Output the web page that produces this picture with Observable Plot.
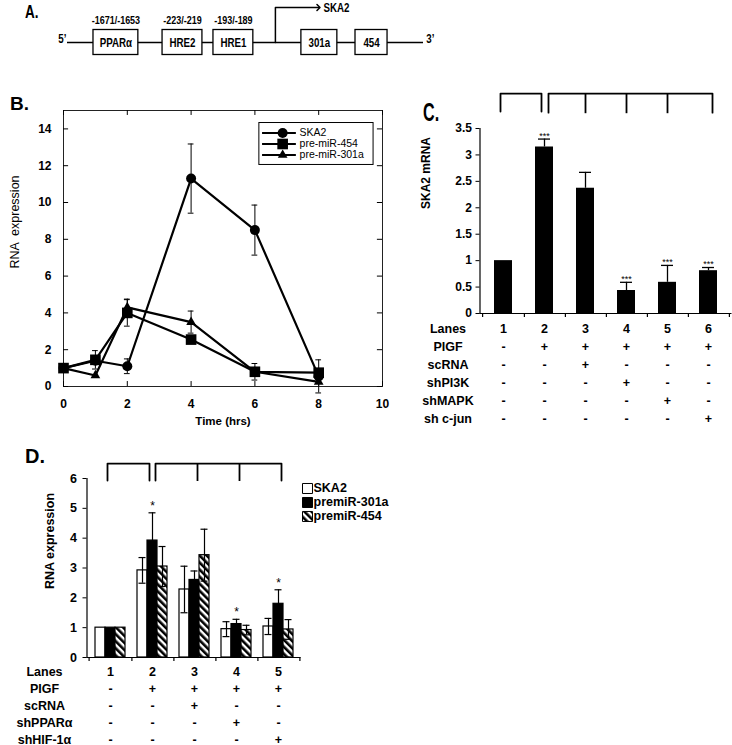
<!DOCTYPE html>
<html><head><meta charset="utf-8">
<script src="https://cdn.jsdelivr.net/npm/d3@7"></script>
<script src="https://cdn.jsdelivr.net/npm/@observablehq/plot@0.6"></script>
<style>
body{margin:0;background:#fff;}
#fig{position:relative;width:732px;height:745px;overflow:hidden;font-family:"Liberation Sans",Arial,sans-serif;}
#fig svg{position:absolute;left:0;top:0;overflow:visible;}
.pl{position:absolute;font-weight:bold;line-height:1;color:#000;transform-origin:0 0;}
.rt{position:absolute;white-space:pre;line-height:1;color:#000;transform:translate(-50%,-50%) rotate(-90deg);}
</style></head><body>
<svg width="0" height="0" style="position:absolute"><defs>
<pattern id="hatch" patternUnits="userSpaceOnUse" width="5" height="5" patternTransform="rotate(-45)">
<rect width="5" height="5" fill="white"/><rect width="2.6" height="5" fill="black"/></pattern></defs></svg>
<div id="fig">
<div class="pl" style="left:25px;top:3px;font-size:18px;transform:scaleX(0.75);">A.</div>
<div class="pl" style="left:10px;top:94px;font-size:19px;">B.</div>
<div class="pl" style="left:423px;top:99px;font-size:26px;transform:scaleX(0.62);">C.</div>
<div class="pl" style="left:25px;top:446px;font-size:20px;">D.</div>
<div class="rt" style="left:15px;top:222px;font-size:12.5px;">RNA  expression</div>
<div class="rt" style="left:426px;top:173px;font-size:12px;font-weight:bold;">SKA2 mRNA</div>
<div class="rt" style="left:50px;top:541px;font-size:12.5px;font-weight:bold;">RNA expression</div>
</div>
<script>
// ================= DATA =================
// Panel A (schematic positions, arbitrary units 0-100 along the promoter line)
const aElements = ["PPARα", "HRE2", "HRE1", "301a", "454"];
const aStart = [7.3, 26.7, 41.0, 65.7, 80.9];
const aEnd = [19.9, 37.9, 52.2, 75.8, 89.9];
const aSiteLabels = ["-1671/-1653", "-223/-219", "-193/-189"];
const aTSS = 58.4, aArrowEnd = 70.5, aGene = "SKA2";

// Panel B
const bSeries = ["SKA2", "pre-miR-454", "pre-miR-301a"];
const bTimes = [0, 1, 2, 4, 6, 8];
const bSKA2 = [1.0, 1.4, 1.1, 11.3, 8.5, 0.55];
const bSKA2Err = [0, 0, 0.4, 1.88, 1.36, 0.9];
const b454 = [1.0, 1.45, 4.0, 2.55, 0.8, 0.75];
const b454Err = [0, 0.5, 0.72, 0, 0.45, 0];
const b301a = [1.0, 0.6, 4.3, 3.5, 0.8, 0.25];
const b301aErr = [0, 0, 0.45, 0.6, 0, 0];
const bXTicks = [0, 2, 4, 6, 8, 10];
const bYTicks = [0, 2, 4, 6, 8, 10, 12, 14];

// Panel C
const cLanes = [1, 2, 3, 4, 5, 6];
const cValues = [1.0, 3.15, 2.37, 0.435, 0.59, 0.81];
const cErrors = [0, 0.15, 0.3, 0.155, 0.32, 0.06];
const cStarLanes = [2, 4, 5, 6];
const cYTicks = [0, 0.5, 1, 1.5, 2, 2.5, 3, 3.5];
const cRowLabels = ["Lanes", "PIGF", "scRNA", "shPI3K", "shMAPK", "sh c-jun"];
const cTable = [
  ["1", "2", "3", "4", "5", "6"],
  ["-", "+", "+", "+", "+", "+"],
  ["-", "-", "+", "-", "-", "-"],
  ["-", "-", "-", "+", "-", "-"],
  ["-", "-", "-", "-", "+", "-"],
  ["-", "-", "-", "-", "-", "+"]
];
const cBracketLeft = [1, 2], cBracketRight = [2, 6], cBracketTicks = [3, 4, 5];

// Panel D
const dLanes = [1, 2, 3, 4, 5];
const dSeries = ["SKA2", "premiR-301a", "premiR-454"];
const dSKA2 = [1, 2.92, 2.28, 0.95, 1.04];
const dSKA2Err = [0, 0.43, 0.78, 0.25, 0.27];
const d301a = [1, 3.92, 2.6, 1.12, 1.8];
const d301aErr = [0, 0.93, 0.3, 0.16, 0.47];
const d454 = [1, 3.05, 3.43, 0.92, 0.94];
const d454Err = [0, 0.67, 0.87, 0.16, 0.33];
const dStarLanes = [2, 4, 5]; // on premiR-301a
const dYTicks = [0, 1, 2, 3, 4, 5, 6];
const dRowLabels = ["Lanes", "PIGF", "scRNA", "shPPARα", "shHIF-1α"];
const dTable = [
  ["1", "2", "3", "4", "5"],
  ["-", "+", "+", "+", "+"],
  ["-", "-", "+", "-", "-"],
  ["-", "-", "-", "+", "-"],
  ["-", "-", "-", "-", "+"]
];
const dBracketLeft = [1, 2], dBracketRight = [2, 5], dBracketTicks = [3, 4];

// ================= RENDER =================
const W = 732, H = 745;
const FONT = '"Liberation Sans", Arial, Helvetica, sans-serif';
const baseStyle = {fontFamily: FONT, fontSize: "12px", fontWeight: "bold", background: "transparent", overflow: "visible", color: "black"};
const fig = document.getElementById("fig");
const add = (p) => { fig.appendChild(p); return p; };
// narrow the glyphs of a plot's texts (the reference uses a condensed face)
const condense = (svg, k) => svg.querySelectorAll("text").forEach(t => {
  const len = t.getComputedTextLength();
  if (len > 0) { t.setAttribute("textLength", (len * k).toFixed(2)); t.setAttribute("lengthAdjust", "spacingAndGlyphs"); }
});

// ---- Panel A ----
const aBoxes = aElements.map((n, i) => ({name: n, x1: aStart[i], x2: aEnd[i]}));
const aSites = aSiteLabels.map((l, i) => ({label: l, x: (aStart[i] + aEnd[i]) / 2}));
const aSvg = add(Plot.plot({
  width: W, height: 75, marginLeft: 67, marginRight: W - 423, marginTop: 0, marginBottom: 0,
  x: {domain: [0, 100], axis: null}, y: {domain: [-2.64, 3.36], axis: null},
  style: {...baseStyle, fontSize: "12px"},
  marks: [
    Plot.ruleY([0], {x1: 0, x2: 100, strokeWidth: 1.5}),
    Plot.line([{x: aTSS, y: 0}, {x: aTSS, y: 2.8}, {x: aArrowEnd, y: 2.8}], {x: "x", y: "y", strokeWidth: 1.5, markerEnd: "arrow"}),
    Plot.rect(aBoxes, {x1: "x1", x2: "x2", y1: -1, y2: 1, fill: "white", stroke: "black", strokeWidth: 1.3}),
    Plot.text(aBoxes, {x: d => (d.x1 + d.x2) / 2, y: 0, text: "name", fontSize: 12.5}),
    Plot.text(aSites, {x: "x", y: 1.76, text: "label", fontSize: 11.5}),
    Plot.text([aGene], {x: aArrowEnd + 1.4, y: 2.8, text: d => d, textAnchor: "start", fontSize: 12.5}),
    Plot.text(["5’"], {x: -0.3, y: 0.3, text: d => d, textAnchor: "end", fontSize: 12.5}),
    Plot.text(["3’"], {x: 100.8, y: 0.3, text: d => d, textAnchor: "start", fontSize: 12.5})
  ]
}));
condense(aSvg, 0.78);

// ---- Panel B ----
const bVals = [bSKA2, b454, b301a], bErrs = [bSKA2Err, b454Err, b301aErr];
const bRows = [];
bSeries.forEach((s, k) => bTimes.forEach((t, i) => bRows.push({s, t, v: bVals[k][i], e: bErrs[k][i]})));
const bErr = bRows.filter(d => d.e > 0);
const bSym = {"SKA2": "circle", "pre-miR-454": "square", "pre-miR-301a": "triangle"};
const bR = {"SKA2": 5, "pre-miR-454": 6, "pre-miR-301a": 3.6};
const bLegY = [13.78, 13.18, 12.58];
const bLeg = bSeries.map((s, i) => ({s, y: bLegY[i]}));
add(Plot.plot({
  width: W, height: H, marginLeft: 63, marginRight: W - 382, marginTop: 110, marginBottom: H - 386,
  x: {domain: [0, 10]}, y: {domain: [0, 15]},
  style: baseStyle,
  marks: [
    Plot.frame({stroke: "#222", strokeWidth: 1}),
    Plot.ruleY(bYTicks, {y: d => d, x1: 0, x2: 0.16}),
    Plot.ruleY(bYTicks, {y: d => d, x1: 9.84, x2: 10}),
    Plot.ruleX(bXTicks, {x: d => d, y1: 0, y2: 0.27}),
    Plot.ruleX(bXTicks, {x: d => d, y1: 14.73, y2: 15}),
    Plot.axisX({ticks: bXTicks, tickSize: 0, tickPadding: 13, fontSize: 12, label: null}),
    Plot.axisY({ticks: bYTicks, tickSize: 0, tickPadding: 12, fontSize: 12, label: null}),
    Plot.ruleX(bErr, {x: "t", y1: d => d.v - d.e, y2: d => d.v + d.e, strokeWidth: 1}),
    Plot.ruleY(bErr, {y: d => d.v + d.e, x1: d => d.t - 0.09, x2: d => d.t + 0.09, strokeWidth: 1}),
    Plot.ruleY(bErr, {y: d => d.v - d.e, x1: d => d.t - 0.09, x2: d => d.t + 0.09, strokeWidth: 1}),
    Plot.line(bRows, {x: "t", y: "v", z: "s", strokeWidth: 2.2}),
    ...bSeries.map(s => Plot.dot(bRows.filter(d => d.s === s), {x: "t", y: "v", symbol: bSym[s], r: bR[s], fill: "black"})),
    // legend
    Plot.rect([0], {x1: 6.14, x2: 9.72, y1: 12.04, y2: 14.32, fill: "white", stroke: "black", strokeWidth: 1}),
    Plot.ruleY(bLeg, {y: "y", x1: 6.24, x2: 7.3, strokeWidth: 2}),
    ...bLeg.map(l => Plot.dot([l], {x: 6.87, y: "y", symbol: bSym[l.s], r: bR[l.s], fill: "black"})),
    Plot.text(bLeg, {x: 7.4, y: "y", text: "s", textAnchor: "start", fontWeight: "normal", fontSize: 10.5}),
    Plot.text(["Time (hrs)"], {x: 5, y: -1.9, text: d => d, fontSize: 11.5})
  ]
}));

// ---- Panel C ----
const cRows = cLanes.map((l, i) => ({lane: l, v: cValues[i], e: cErrors[i]}));
const cX = {type: "band", domain: cLanes, paddingInner: 0.57, paddingOuter: 0.3};
const cML = 479.5, cMR = 0.5;
const cStep = (W - cML - cMR) / (cLanes.length - 0.57 + 0.6);
const bracket = ([a, b], lo, hi) => [{lane: a, y: lo}, {lane: a, y: hi}, {lane: b, y: hi}, {lane: b, y: lo}];
add(Plot.plot({
  width: W, height: H, marginLeft: cML, marginRight: cMR, marginTop: 128, marginBottom: H - 313,
  x: {...cX, axis: null}, y: {domain: [0, 3.5]},
  style: baseStyle,
  marks: [
    Plot.barY(cRows, {x: "lane", y: "v", fill: "black"}),
    Plot.ruleX(cRows.filter(d => d.e > 0), {x: "lane", y1: "v", y2: d => d.v + d.e, strokeWidth: 1.3}),
    Plot.tickY(cRows.filter(d => d.e > 0), {x: "lane", y: d => d.v + d.e, insetLeft: 3, insetRight: 3, strokeWidth: 1.3}),
    Plot.text(cRows.filter(d => cStarLanes.includes(d.lane)), {x: "lane", y: d => d.v + d.e, text: d => "***", dy: -3.3, fontSize: 9, fontWeight: "normal"}),
    Plot.ruleY([0], {strokeWidth: 1.2}),
    Plot.frame({anchor: "left", strokeWidth: 1.2}),
    Plot.ruleX(cLanes, {x: d => d, dx: cStep / 2, y1: 0, y2: -0.076, strokeWidth: 1.2}),
    Plot.ruleX([cLanes[0]], {x: d => d, dx: -cStep / 2, y1: 0, y2: -0.076, strokeWidth: 1.2}),
    Plot.axisY({ticks: cYTicks, tickSize: 4, tickPadding: 4, tickFormat: d => String(d), fontSize: 12, label: null}),
    Plot.line(bracket(cBracketLeft, 3.82, 4.16), {x: "lane", y: "y", dx: -3, strokeWidth: 1.8}),
    Plot.line(bracket(cBracketRight, 3.8, 4.16), {x: "lane", y: "y", dx: 4, strokeWidth: 1.8}),
    Plot.ruleX(cBracketTicks, {x: d => d, y1: 3.78, y2: 4.16, strokeWidth: 1.8})
  ]
}));

// ---- tables ----
function tablePlot(lanes, rowLabels, table, xOpts, mL, mR, yRange, labelDx) {
  const cells = [];
  table.forEach((row, r) => row.forEach((sym, c) => cells.push({lane: lanes[c], row: rowLabels[r], sym})));
  return Plot.plot({
    width: W, height: H, marginLeft: mL, marginRight: mR, marginTop: 0, marginBottom: 0,
    x: {...xOpts, axis: null}, y: {type: "point", domain: rowLabels, range: yRange, padding: 0, axis: null},
    style: baseStyle,
    marks: [
      Plot.text(rowLabels, {y: d => d, frameAnchor: "left", dx: labelDx, text: d => d, textAnchor: "middle", fontSize: 12.5}),
      Plot.text(cells, {x: "lane", y: "row", text: "sym", fontSize: 12.5})
    ]
  });
}
add(tablePlot(cLanes, cRowLabels, cTable, cX, cML, cMR, [328, 418], 447.5 - cML));

// ---- Panel D ----
const dVals = [dSKA2, d301a, d454], dErrs = [dSKA2Err, d301aErr, d454Err];
const dFills = ["white", "black", "url(#hatch)"];
const dOff = [-10, 0, 10];
const dX = {type: "band", domain: dLanes, paddingInner: 0.766, paddingOuter: 0.383};
const dML = 86.5, dMR = W - 300.5;
const dStep = (W - dML - dMR) / dLanes.length;
const dRows = dSeries.map((s, k) => dLanes.map((l, i) => ({s, lane: l, v: dVals[k][i], e: dErrs[k][i]})));
const dLegY = [5.665, 5.196, 4.727];
const dMarks = [];
dRows.forEach((rows, k) => {
  dMarks.push(Plot.barY(rows, {x: "lane", y: "v", fill: dFills[k], stroke: "black", strokeWidth: 1.2, dx: dOff[k]}));
});
dRows.forEach((rows, k) => {
  const er = rows.filter(d => d.e > 0);
  dMarks.push(Plot.ruleX(er, {x: "lane", y1: d => d.v - d.e, y2: d => d.v + d.e, strokeWidth: 1.2, dx: dOff[k]}));
  dMarks.push(Plot.tickY(er, {x: "lane", y: d => d.v + d.e, insetLeft: 1.5, insetRight: 1.5, strokeWidth: 1.2, dx: dOff[k]}));
  dMarks.push(Plot.tickY(er, {x: "lane", y: d => d.v - d.e, insetLeft: 1.5, insetRight: 1.5, strokeWidth: 1.2, dx: dOff[k]}));
});
add(Plot.plot({
  width: W, height: H, marginLeft: dML, marginRight: dMR, marginTop: 478, marginBottom: H - 657,
  x: {...dX, axis: null}, y: {domain: [0, 6]},
  style: baseStyle,
  marks: [
    ...dMarks,
    Plot.text(dRows[1].filter(d => dStarLanes.includes(d.lane)), {x: "lane", y: d => d.v + d.e, text: d => "*", dy: -7, fontSize: 12, fontWeight: "normal"}),
    Plot.ruleY([0], {strokeWidth: 1.2}),
    Plot.frame({anchor: "left", strokeWidth: 1.2}),
    Plot.ruleX(dLanes, {x: d => d, dx: dStep / 2, y1: 0, y2: -0.134, strokeWidth: 1.2}),
    Plot.ruleX([dLanes[0]], {x: d => d, dx: -dStep / 2, y1: 0, y2: -0.134, strokeWidth: 1.2}),
    Plot.axisY({ticks: dYTicks, tickSize: 4, tickPadding: 6, tickFormat: d => String(d), fontSize: 12.5, label: null}),
    Plot.line(bracket(dBracketLeft, 5.93, 6.5), {x: "lane", y: "y", dx: -3, strokeWidth: 1.8}),
    Plot.line(bracket(dBracketRight, 5.93, 6.5), {x: "lane", y: "y", dx: 3, strokeWidth: 1.8}),
    Plot.ruleX(dBracketTicks, {x: d => d, y1: 5.9, y2: 6.5, dx: 3, strokeWidth: 1.8}),
    // legend
    ...dSeries.map((s, k) => Plot.dot([s], {frameAnchor: "right", y: () => dLegY[k], dx: 6.5, symbol: "square", r: 5.64, fill: dFills[k], stroke: "black", strokeWidth: 1})),
    Plot.text(dSeries, {frameAnchor: "right", y: (d, i) => dLegY[i], dx: 12.5, text: d => d, textAnchor: "start", fontSize: 12.5})
  ]
}));
add(tablePlot(dLanes, dRowLabels, dTable, dX, dML, dMR, [670, 740], 44 - dML));
</script>
</body></html>
